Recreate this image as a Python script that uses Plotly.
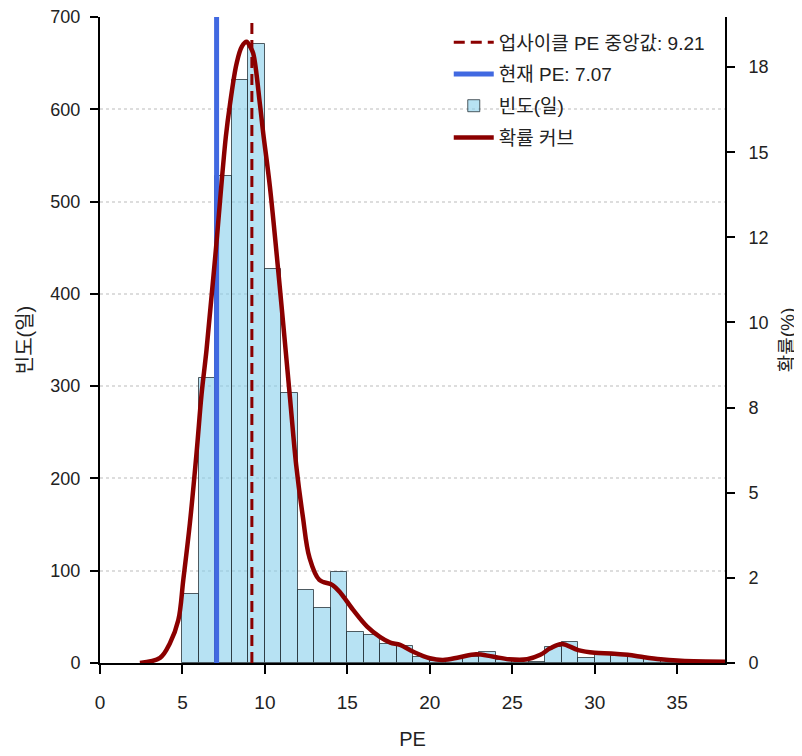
import plotly.graph_objects as go
from plotly.subplots import make_subplots

# Histogram data (bin left edges, width 1)
bin_left = list(range(5, 38))
counts = [75, 309, 528, 632, 671, 427, 293, 79, 60, 99, 34, 30, 21, 18, 7, 2, 4, 7,
          12, 3, 2, 1, 17, 23, 5, 9, 8, 7, 5, 3, 1, 1, 1]
bin_width = 1.0

# Probability curve (%)
curve_x = [2.42, 3.64, 4.24, 4.75, 5.05, 5.45, 5.86, 6.16, 6.46, 7.0, 7.63, 7.88, 8.28,
           8.6, 8.89, 9.1, 9.29, 9.7, 9.9, 10.3, 10.9, 11.5, 11.9, 12.3, 12.7, 13.3,
           14.1, 14.6, 15.35, 16.2, 16.97, 17.6, 18.2, 19.0, 20.0, 20.8, 21.8, 22.8,
           23.8, 24.8, 25.9, 26.7, 27.3, 28.0, 29.0, 30.0, 31.0, 32.0, 33.0, 34.0,
           35.0, 36.0, 37.9]
curve_y = [0.0, 0.15, 0.58, 1.26, 2.44, 4.1, 6.2, 7.9, 9.2, 12.0, 15.45, 16.4, 17.6,
           18.1, 18.24, 18.1, 17.9, 16.4, 15.55, 14.0, 11.05, 7.9, 5.8, 4.3, 3.1, 2.44,
           2.29, 2.05, 1.56, 1.07, 0.77, 0.6, 0.53, 0.33, 0.14, 0.09, 0.17, 0.26,
           0.19, 0.11, 0.11, 0.24, 0.43, 0.56, 0.38, 0.3, 0.28, 0.24, 0.17, 0.11,
           0.07, 0.05, 0.04]

median_pe = 9.21
current_pe = 7.07

x_ticks = [0, 5, 10, 15, 20, 25, 30, 35]
y_left_ticks = [0, 100, 200, 300, 400, 500, 600, 700]
y_right_tickvals = [0, 2.5, 5, 7.5, 10, 12.5, 15, 17.5]
y_right_ticktext = ["0", "2", "5", "8", "10", "12", "15", "18"]

FONT = "Liberation Sans, Arial, Noto Sans CJK KR, sans-serif"

fig = make_subplots(specs=[[{"secondary_y": True}]])

bin_centers = [b + bin_width / 2 for b in bin_left]
fig.add_trace(go.Bar(
    x=bin_centers, y=counts, width=bin_width, name="빈도(일)",
    marker=dict(color="rgba(135,206,235,0.6)", line=dict(color="rgba(30,40,45,0.75)", width=1)),
    legendrank=3, legendgroup="c",
), secondary_y=False)

fig.add_trace(go.Scatter(
    x=[current_pe, current_pe], y=[0, 700], mode="lines",
    line=dict(color="#4169E1", width=5), name=f"현재 PE: {current_pe:.2f}",
    legendrank=2, legendgroup="b",
), secondary_y=False)

fig.add_trace(go.Scatter(
    x=[median_pe, median_pe], y=[0, 700], mode="lines",
    line=dict(color="#8B0000", width=3, dash="11px,6px"), name=f"업사이클 PE 중앙값: {median_pe:.2f}",
    legendrank=1, legendgroup="a",
), secondary_y=False)

fig.add_trace(go.Scatter(
    x=curve_x, y=curve_y, mode="lines",
    line=dict(color="#8B0000", width=4.5, shape="spline", smoothing=1.0),
    name="확률 커브", legendrank=4, legendgroup="d",
), secondary_y=True)

fig.update_layout(
    width=794, height=748,
    margin=dict(l=92, r=77, t=9, b=93, autoexpand=False),
    plot_bgcolor="white", paper_bgcolor="white",
    font=dict(family=FONT, size=18, color="#222"),
    bargap=0,
    legend=dict(x=0.558, y=0.99, xanchor="left", yanchor="top",
                bgcolor="rgba(255,255,255,0)", font=dict(size=19), tracegroupgap=4,
                traceorder="grouped", itemwidth=40),
    showlegend=True,
)

fig.update_xaxes(
    domain=[0, 1],
    range=[0, 37.9], tickvals=x_ticks, ticks="outside", ticklen=9, tickwidth=2,
    tickcolor="black", showline=True, linecolor="black", linewidth=2,
    showgrid=False, zeroline=False, automargin=False, ticklabelstandoff=12,
    tickfont=dict(size=19), ticklabeloverflow="allow",
    title=dict(text="PE", font=dict(size=20), standoff=20),
)
fig.update_yaxes(
    range=[0, 700], tickvals=y_left_ticks, ticks="outside", ticklen=8, tickwidth=2,
    tickcolor="black", showline=True, linecolor="black", linewidth=2, automargin=False,
    showgrid=True, gridcolor="#dddddd", griddash="dot", gridwidth=1.5, zeroline=False,
    ticklabelstandoff=6, ticklabeloverflow="allow",
    title=dict(text="빈도(일)", font=dict(size=20), standoff=12),
    secondary_y=False,
)
fig.update_yaxes(
    range=[0, 18.97], tickvals=y_right_tickvals, ticktext=y_right_ticktext,
    ticks="outside", ticklen=8, tickwidth=2, tickcolor="black", automargin=False,
    showline=True, linecolor="black", linewidth=2, showgrid=False, zeroline=False,
    ticklabelstandoff=10, ticklabeloverflow="allow",
    title=dict(text="확률(%)", font=dict(size=19, color="#222"), standoff=13),
    secondary_y=True,
)

fig.write_html("out.html")
